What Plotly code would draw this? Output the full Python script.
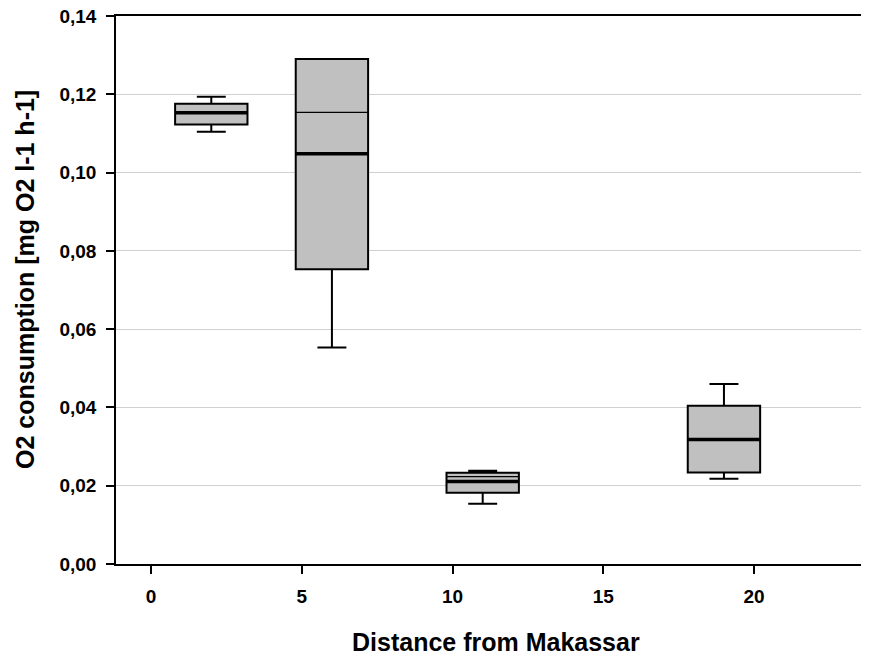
import plotly.graph_objects as go

# data
distance = [2, 6, 11, 19]
q1 = [0.1123, 0.0753, 0.0182, 0.0234]
median = [0.1153, 0.1048, 0.0211, 0.0318]
q3 = [0.1176, 0.1290, 0.0233, 0.0404]
lower = [0.1104, 0.0553, 0.0154, 0.0218]
upper = [0.1194, 0.1290, 0.0238, 0.0460]
mean = [None, 0.1154, 0.0223, None]

x_ticks = [0, 5, 10, 15, 20]
y_ticks = [0.00, 0.02, 0.04, 0.06, 0.08, 0.10, 0.12, 0.14]
x_title = "Distance from Makassar"
y_title = "O2 consumption [mg O2 l-1 h-1]"

BOX_W = 2.4
FONT = "Liberation Sans, Arial, sans-serif"
W, H = 869, 658
OFF = 8  # page body margin offset
ML, MR, MT, MB = 116 - OFF, OFF, 16 - OFF, H - (564 - OFF)
PW, PH = W - ML - MR, H - MT - MB

fig = go.Figure()
fig.add_trace(go.Box(
    x=distance, q1=q1, median=median, q3=q3,
    lowerfence=lower, upperfence=upper,
    width=BOX_W, whiskerwidth=0.4,
    fillcolor="#C0C0C0", line=dict(color="black", width=2),
    boxpoints=False, showlegend=False, hoverinfo="skip",
))

# thick median lines
mx, my = [], []
for c, m in zip(distance, median):
    mx += [c - BOX_W / 2, c + BOX_W / 2, None]
    my += [m, m, None]
fig.add_trace(go.Scatter(x=mx, y=my, mode="lines",
                         line=dict(color="black", width=3.5),
                         showlegend=False, hoverinfo="skip"))

# thin mean lines
ax, ay = [], []
for c, m in zip(distance, mean):
    if m is None:
        continue
    ax += [c - BOX_W / 2, c + BOX_W / 2, None]
    ay += [m, m, None]
fig.add_trace(go.Scatter(x=ax, y=ay, mode="lines",
                         line=dict(color="black", width=1.3),
                         showlegend=False, hoverinfo="skip"))

fig.update_layout(
    width=W, height=H,
    margin=dict(l=ML, r=MR, t=MT, b=MB, autoexpand=False),
    paper_bgcolor="white", plot_bgcolor="white",
    separators=", ",
    font=dict(family=FONT, color="black"),
    xaxis=dict(
        range=[-1.16, 23.81], tickvals=x_ticks, ticktext=[str(v) for v in x_ticks],
        showgrid=False, zeroline=False, automargin=False,
        showline=True, linecolor="black", linewidth=1.5, mirror=True,
        ticks="outside", ticklen=8, tickwidth=1.5, tickcolor="black",
        ticklabelstandoff=6,
        tickfont=dict(size=19, family=FONT, weight="bold"),
    ),
    yaxis=dict(
        range=[0, 0.14], tickvals=y_ticks, tickformat=".2f",
        showgrid=True, gridcolor="#D0D0D0", gridwidth=1,
        zeroline=False, automargin=False,
        showline=True, linecolor="black", linewidth=1.5,
        ticks="outside", ticklen=8, tickwidth=1.5, tickcolor="black",
        ticklabelstandoff=6, ticklabeloverflow="allow",
        tickfont=dict(size=19, family=FONT, weight="bold"),
    ),
    annotations=[
        dict(text=f"<b>{x_title}</b>", xref="paper", yref="paper",
             x=(496 - OFF - ML) / PW, y=(H - MB - (642 - OFF)) / PH,
             xanchor="center", yanchor="middle", showarrow=False,
             font=dict(size=25, family=FONT, color="black")),
        dict(text=f"<b>{y_title}</b>", xref="paper", yref="paper",
             x=(25 - OFF - ML) / PW, y=(H - MB - (280 - OFF)) / PH, textangle=-90,
             xanchor="center", yanchor="middle", showarrow=False,
             font=dict(size=25, family=FONT, color="black")),
    ],
)

fig.write_html("out.html")
